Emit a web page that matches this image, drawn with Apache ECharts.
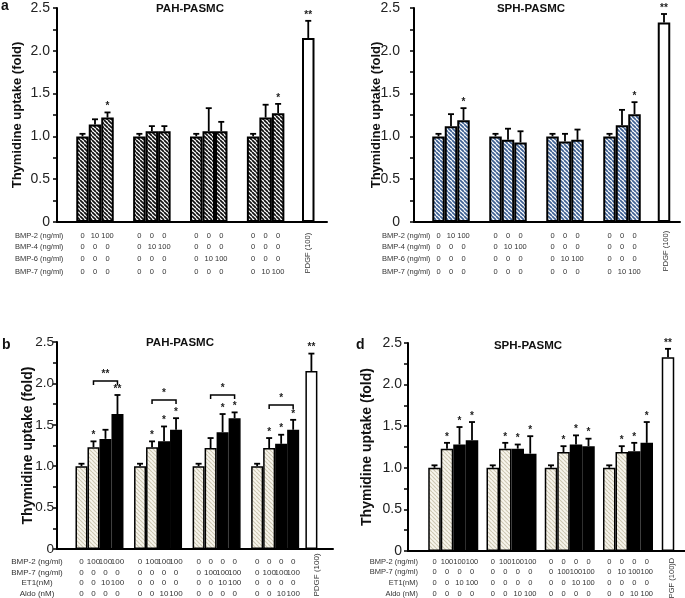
<!DOCTYPE html>
<html>
<head>
<meta charset="utf-8">
<script src="https://cdn.jsdelivr.net/npm/echarts@6/dist/echarts.min.js"></script>
<style>
html,body{margin:0;padding:0;background:#fff;}
#chart{width:685px;height:598px;}
</style>
</head>
<body>
<div id="chart"></div>
<script>
// ---------- data ----------
const yTickLabels = ['0', '0.5', '1.0', '1.5', '2.0', '2.5'];

const rowsA = ['BMP-2 (ng/ml)', 'BMP-4 (ng/ml)', 'BMP-6 (ng/ml)', 'BMP-7 (ng/ml)'];
const rowsB = ['BMP-2 (ng/ml)', 'BMP-7 (ng/ml)', 'ET1(nM)', 'Aldo (nM)'];

// (a) BMPs alone, 4 groups x 3 + PDGF
const dosesA = [
  ['0','10','100', '0','0','0', '0','0','0', '0','0','0'],
  ['0','0','0', '0','10','100', '0','0','0', '0','0','0'],
  ['0','0','0', '0','0','0', '0','10','100', '0','0','0'],
  ['0','0','0', '0','0','0', '0','0','0', '0','10','100']
];
const pahA     = [1.00, 1.14, 1.22, 1.00, 1.06, 1.06, 1.00, 1.06, 1.06, 1.00, 1.22, 1.27, 2.15];
const pahAErr  = [0.03, 0.06, 0.06, 0.03, 0.06, 0.06, 0.03, 0.27, 0.11, 0.03, 0.15, 0.11, 0.20];
const pahAStar = ['', '', '*', '', '', '', '', '', '', '', '', '*', '**'];

const sphA     = [1.00, 1.12, 1.19, 1.00, 0.96, 0.93, 1.00, 0.94, 0.96, 1.00, 1.13, 1.26, 2.33];
const sphAErr  = [0.03, 0.14, 0.14, 0.03, 0.13, 0.13, 0.03, 0.09, 0.12, 0.03, 0.18, 0.14, 0.10];
const sphAStar = ['', '', '*', '', '', '', '', '', '', '', '', '*', '**'];

// (b) PAH-PASMC with ET1 / Aldo, 4 groups x 4 + PDGF
const dosesB = [
  ['0','100','100','100', '0','100','100','100', '0','0','0','0', '0','0','0','0'],
  ['0','0','0','0', '0','0','0','0', '0','100','100','100', '0','100','100','100'],
  ['0','0','10','100', '0','0','0','0', '0','0','10','100', '0','0','0','0'],
  ['0','0','0','0', '0','0','10','100', '0','0','0','0', '0','0','10','100']
];
const pahB     = [1.00, 1.23, 1.33, 1.63, 1.00, 1.23, 1.30, 1.44, 1.00, 1.22, 1.41, 1.58, 1.00, 1.22, 1.27, 1.44, 2.15];
const pahBErr  = [0.03, 0.07, 0.11, 0.23, 0.03, 0.07, 0.18, 0.14, 0.03, 0.12, 0.22, 0.07, 0.03, 0.12, 0.11, 0.12, 0.21];
const pahBStar = ['', '*', '', '**', '', '*', '*', '*', '', '', '*', '*', '', '*', '*', '*', '**'];
const pahBBracket     = [2.03, 1.80, 1.86, 1.74];
const pahBBracketStar = ['**', '*', '*', '*'];

// (d) SPH-PASMC with ET1 / Aldo
const dosesD = [
  ['0','100','100','100', '0','100','100','100', '0','0','0','0', '0','0','0','0'],
  ['0','0','0','0', '0','0','0','0', '0','100','100','100', '0','10','100','100'],
  ['0','0','10','100', '0','0','0','0', '0','0','10','100', '0','0','0','0'],
  ['0','0','0','0', '0','0','10','100', '0','0','0','0', '0','0','10','100']
];
const sphD     = [1.00, 1.23, 1.28, 1.33, 1.00, 1.23, 1.23, 1.17, 1.00, 1.19, 1.28, 1.26, 1.00, 1.19, 1.20, 1.30, 2.33];
const sphDErr  = [0.03, 0.07, 0.21, 0.22, 0.03, 0.07, 0.05, 0.21, 0.03, 0.07, 0.11, 0.09, 0.03, 0.07, 0.10, 0.25, 0.10];
const sphDStar = ['', '*', '*', '*', '', '*', '*', '*', '', '*', '*', '*', '', '*', '*', '*', '**'];

// ---------- helpers ----------
const FONT = 'Liberation Sans, Arial, sans-serif';

function hatch(fg, bg, step, lw) {
  const c = document.createElement('canvas');
  c.width = c.height = step;
  const g = c.getContext('2d');
  g.fillStyle = bg; g.fillRect(0, 0, step, step);
  g.strokeStyle = fg; g.lineWidth = lw;
  g.beginPath();
  for (const o of [-step, 0, step]) { g.moveTo(o, 0); g.lineTo(o + step, step); }
  g.stroke();
  return { image: c, repeat: 'repeat' };
}
const darkHatch  = hatch('#111', '#fff', 4, 1.7);
const blueHatch  = hatch('#3d5f92', '#fff', 4, 1.7);
const lightHatch = hatch('#cdc7b2', '#f8f6ee', 4, 1.2);

const grids = [], xAxes = [], yAxes = [], series = [];

function panel(cfg) {
  const k = grids.length;
  const n = cfg.values.length;
  const xs = cfg.values.map((_, i) => i === n - 1 ? cfg.pdgf
    : cfg.start + Math.floor(i / cfg.per) * cfg.period + i % cfg.per);

  grids.push({ left: cfg.box[0], top: cfg.box[1], width: cfg.box[2], height: cfg.box[3] });
  xAxes.push({
    type: 'value', gridIndex: k, min: 0, max: cfg.box[2] / cfg.unit,
    axisLine: { show: true, onZero: false, lineStyle: { color: '#000', width: 2 } },
    axisTick: { show: false }, axisLabel: { show: false }, splitLine: { show: false }
  });
  yAxes.push({
    type: 'value', gridIndex: k, min: 0, max: 2.5, interval: 0.5,
    axisLine: { show: true, lineStyle: { color: '#000', width: 2 } },
    axisTick: { show: true, length: 4, lineStyle: { color: '#000', width: 1.5 } },
    minorTick: { show: true, splitNumber: 2, length: 4, lineStyle: { color: '#000', width: 1.5 } },
    splitLine: { show: false },
    axisLabel: { fontSize: cfg.tickSize, color: '#222', fontFamily: FONT, margin: cfg.labelMargin,
                 formatter: v => yTickLabels[Math.round(v / 0.5)] },
    name: 'Thymidine uptake (fold)', nameLocation: 'middle', nameGap: cfg.nameGap,
    nameMoveOverlap: false,
    nameTextStyle: { fontSize: cfg.nameSize, fontWeight: 'bold', color: '#111', fontFamily: FONT }
  });

  series.push({
    type: 'bar', xAxisIndex: k, yAxisIndex: k, barWidth: cfg.unit, silent: true,
    data: cfg.values.map((v, i) => ({
      value: [xs[i], v],
      itemStyle: { color: cfg.fill(i, n), borderColor: '#000', borderWidth: cfg.border }
    }))
  });

  // error bars + significance stars
  series.push({
    type: 'custom', xAxisIndex: k, yAxisIndex: k, silent: true, z: 5,
    data: cfg.values.map((v, i) => [xs[i], v, cfg.errs[i]]),
    renderItem: (p, api) => {
      const i = p.dataIndex;
      const x = api.value(0), v = api.value(1), e = api.value(2);
      const a = api.coord([x, v]), b = api.coord([x, v + e]);
      const st = { stroke: '#000', lineWidth: 1.8 };
      const ch = [
        { type: 'line', shape: { x1: a[0], y1: a[1], x2: b[0], y2: b[1] }, style: st },
        { type: 'line', shape: { x1: b[0] - 3, y1: b[1], x2: b[0] + 3, y2: b[1] }, style: st }
      ];
      if (cfg.stars[i]) ch.push({ type: 'text', x: b[0], y: b[1] - 1,
        style: { text: cfg.stars[i], align: 'center', verticalAlign: 'bottom',
                 fontSize: 10, fontWeight: 'bold', fontFamily: FONT, fill: '#222' } });
      return { type: 'group', children: ch };
    }
  });

  // dose table under each bar
  series.push({
    type: 'custom', xAxisIndex: k, yAxisIndex: k, silent: true,
    data: xs.map(x => [x, 0]),
    renderItem: (p, api) => {
      const i = p.dataIndex;
      const o = api.coord([api.value(0), 0]);
      if (i === n - 1) {
        return { type: 'text', x: o[0] + cfg.pdgfDx, y: o[1] + cfg.pdgfDy, rotation: Math.PI / 2,
          style: { text: cfg.pdgfText, align: 'center', verticalAlign: 'middle',
                   fontSize: cfg.tableSize, fontFamily: FONT, fill: '#333' } };
      }
      return { type: 'group', children: cfg.doses.map((row, r) => ({
        type: 'text', x: o[0], y: o[1] + cfg.rowDy[r],
        style: { text: row[i], align: 'center', verticalAlign: 'middle',
                 fontSize: cfg.tableSize, fontFamily: FONT, fill: '#333' } })) };
    }
  });

  if (cfg.brackets) {
    series.push({
      type: 'custom', xAxisIndex: k, yAxisIndex: k, silent: true,
      data: cfg.brackets.map((y, g) => [xs[g * cfg.per + 1], y, xs[g * cfg.per + 3]]),
      renderItem: (p, api) => {
        const a = api.coord([api.value(0), api.value(1)]);
        const b = api.coord([api.value(2), api.value(1)]);
        const st = { stroke: '#000', lineWidth: 1.5 };
        return { type: 'group', children: [
          { type: 'polyline', shape: { points: [[a[0], a[1] + 4], a, b, [b[0], b[1] + 4]] }, style: { ...st, fill: null } },
          { type: 'text', x: (a[0] + b[0]) / 2, y: a[1] - 2,
            style: { text: cfg.bracketStars[p.dataIndex], align: 'center', verticalAlign: 'bottom',
                     fontSize: 10, fontWeight: 'bold', fontFamily: FONT, fill: '#222' } }
        ] };
      }
    });
  }
}

panel({ box: [57, 8, 270, 214], unit: 12.5, start: 2.04, period: 4.55, per: 3, pdgf: 20.1,
  values: pahA, errs: pahAErr, stars: pahAStar, doses: dosesA, rowDy: [14, 25, 37, 50],
  tableSize: 7.5, pdgfText: 'PDGF (100)', pdgfDx: 0, pdgfDy: 31, border: 2,
  nameGap: 33, nameSize: 13, tickSize: 14, labelMargin: 7,
  fill: (i, n) => i === n - 1 ? '#fff' : darkHatch });

panel({ box: [414, 8, 266, 214], unit: 12.5, start: 1.96, period: 4.56, per: 3, pdgf: 20.0,
  values: sphA, errs: sphAErr, stars: sphAStar, doses: dosesA, rowDy: [14, 25, 37, 50],
  tableSize: 7.5, pdgfText: 'PDGF (100)', pdgfDx: 2, pdgfDy: 29, border: 2,
  nameGap: 31, nameSize: 13, tickSize: 14, labelMargin: 14,
  fill: (i, n) => i === n - 1 ? '#fff' : blueHatch });

panel({ box: [57, 342, 276, 207], unit: 12, start: 2.04, period: 4.88, per: 4, pdgf: 21.2,
  values: pahB, errs: pahBErr, stars: pahBStar, doses: dosesB, rowDy: [13, 24, 34, 45],
  tableSize: 8, pdgfText: 'PDGF (100)', pdgfDx: 5, pdgfDy: 26, border: 1.5,
  nameGap: 22, nameSize: 14, tickSize: 13.5, labelMargin: 3,
  brackets: pahBBracket, bracketStars: pahBBracketStar,
  fill: (i, n) => i === n - 1 ? '#fff' : (i % 4 < 2 ? lightHatch : '#000') });

panel({ box: [408, 343, 277, 208], unit: 12.5, start: 2.12, period: 4.66, per: 4, pdgf: 20.8,
  values: sphD, errs: sphDErr, stars: sphDStar, doses: dosesD, rowDy: [11, 21, 32, 43],
  tableSize: 7.5, pdgfText: 'PGF (100)D', pdgfDx: 4, pdgfDy: 27, border: 1.5,
  nameGap: 34, nameSize: 14, tickSize: 14, labelMargin: 6,
  fill: (i, n) => i === n - 1 ? '#fff' : (i % 4 < 2 ? lightHatch : '#000') });

// panel letters, titles, table row labels
const txt = (text, x, y, size, opt) => ({ type: 'text', x, y,
  style: Object.assign({ text, fontSize: size, fontFamily: FONT, fill: '#111',
                         verticalAlign: 'middle' }, opt || {}) });
const graphic = [
  txt('a', 1, 6, 14, { fontWeight: 'bold' }),
  txt('b', 2, 345, 14, { fontWeight: 'bold' }),
  txt('d', 356, 345, 14, { fontWeight: 'bold' }),
  txt('PAH-PASMC', 190, 9, 11.5, { fontWeight: 'bold', align: 'center' }),
  txt('SPH-PASMC', 531, 9, 11.5, { fontWeight: 'bold', align: 'center' }),
  txt('PAH-PASMC', 180, 343, 11.5, { fontWeight: 'bold', align: 'center' }),
  txt('SPH-PASMC', 528, 346, 11.5, { fontWeight: 'bold', align: 'center' })
];
rowsA.forEach((r, j) => {
  graphic.push(txt(r, 15, 236 + [0, 11, 23, 36][j], 7.5, { fill: '#333' }));
  graphic.push(txt(r, 382, 236 + [0, 11, 23, 36][j], 7.5, { fill: '#333' }));
});
rowsB.forEach((r, j) => {
  graphic.push(txt(r, 37, 562 + [0, 11, 21, 32][j], 8, { fill: '#333', align: 'center' }));
  graphic.push(txt(r, 418, 562 + [0, 10, 21, 32][j], 7.5, { fill: '#333', align: 'right' }));
});

const chart = echarts.init(document.getElementById('chart'));
chart.setOption({
  animation: false,
  backgroundColor: '#fff',
  grid: grids, xAxis: xAxes, yAxis: yAxes, series: series, graphic: graphic
});
</script>
</body>
</html>
